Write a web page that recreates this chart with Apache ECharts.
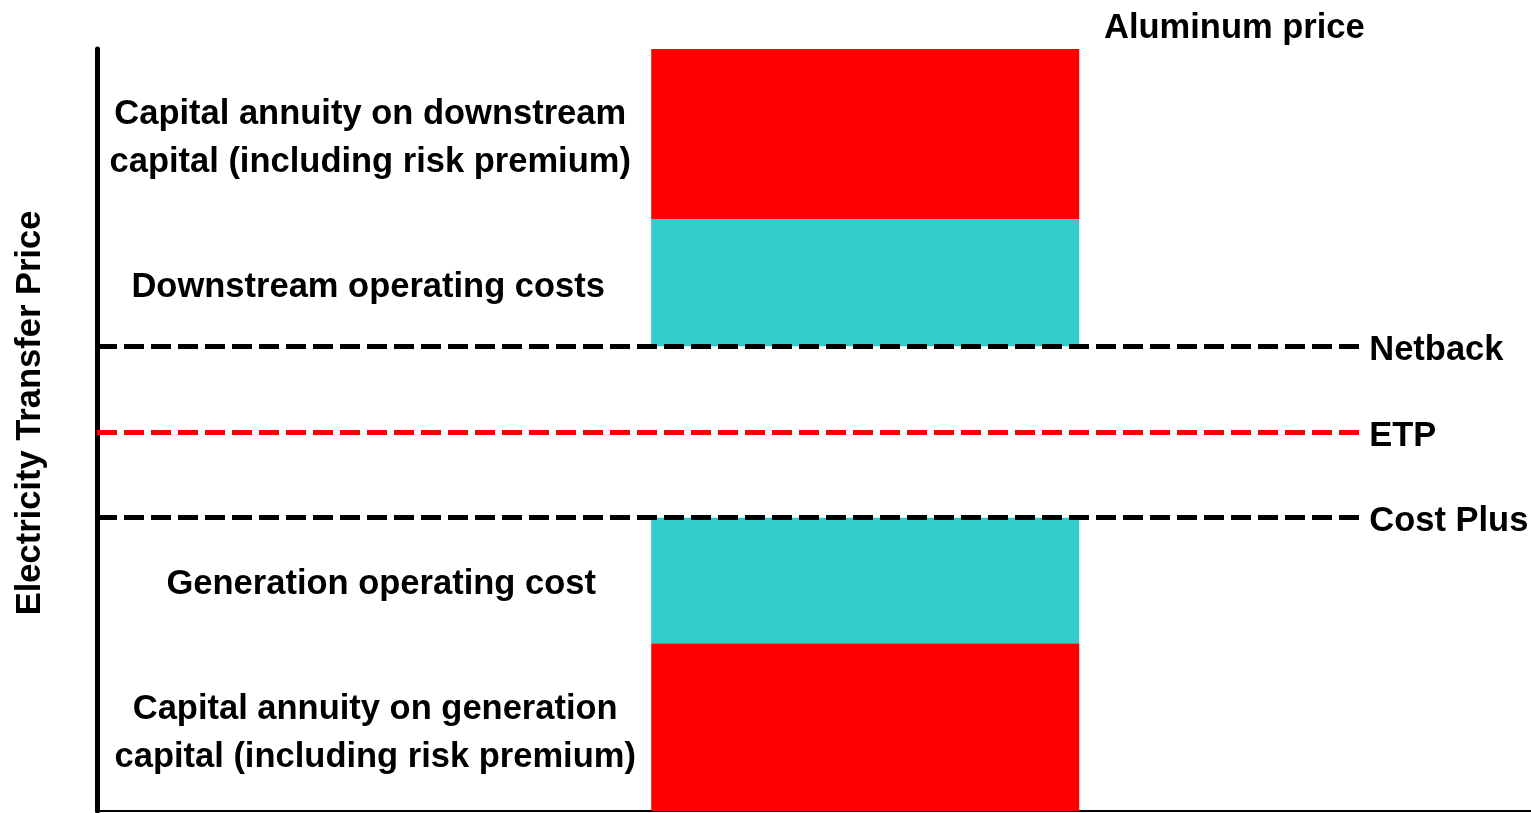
<!DOCTYPE html>
<html>
<head>
<meta charset="utf-8">
<title>Electricity Transfer Price</title>
<script src="https://cdn.jsdelivr.net/npm/echarts@6/dist/echarts.min.js"></script>
<style>
  html, body { margin: 0; padding: 0; background: #ffffff; }
  #chart { width: 1531px; height: 813px; }
</style>
</head>
<body>
<div id="chart"></div>
<script>
// Price build-up (arbitrary units, aluminum price = 100)
const componentNames = [
  'Capital annuity on generation\ncapital (including risk premium)',
  'Generation operating cost',
  'Downstream operating costs',
  'Capital annuity on downstream\ncapital (including risk premium)'
];
const componentValues = [22, 16.5, 16.7, 22.3];

const levelNames = ['Cost Plus', 'ETP', 'Netback'];
const levelValues = [38.5, 49.7, 61];
const aluminumPrice = 100;
const axisTitle = 'Electricity Transfer Price';

const RED = '#ff0000';
const CYAN = '#33cccc';
const FONT = '"Liberation Sans", Arial, sans-serif';
const FS = 34.5;

// horizontal layout: 14 equal slots across the plot, the bar sits in slot 8
const SLOT_COUNT = 14;
const BAR_SLOT = 7;
const LINE_END_X = 88.3;   // on the 0..100 reference x-axis
const BAR_PX = 428;

const slots = Array.from({ length: SLOT_COUNT }, (_, i) => 's' + i);
const costPlus = levelValues[0];
const netback = levelValues[2];
const gapValue = netback - costPlus;

function segment(name, value, color, labelOffset) {
  const data = slots.map((_, i) => (i === BAR_SLOT ? value : '-'));
  return {
    type: 'bar',
    name: name,
    stack: 'price',
    xAxisIndex: 1,
    barWidth: BAR_PX,
    data: data,
    itemStyle: { color: color },
    silent: true,
    label: {
      show: labelOffset !== null,
      position: 'inside',
      formatter: name,
      offset: labelOffset || [0, 0],
      color: '#000',
      fontFamily: FONT,
      fontWeight: 'bold',
      fontSize: FS,
      lineHeight: 48,
      align: 'center'
    }
  };
}

const lineColors = ['#000000', RED, '#000000'];
const markLineData = levelNames.map((n, i) => [
  { coord: [0, levelValues[i]], name: n,
    lineStyle: { color: lineColors[i] } },
  { coord: [LINE_END_X, levelValues[i]] }
]);

const series = [
  segment(componentNames[0], componentValues[0], RED, [-490, 6]),
  segment(componentNames[1], componentValues[1], CYAN, [-484, 4]),
  segment('gap', gapValue, 'rgba(0,0,0,0)', null),
  segment(componentNames[2], componentValues[2], CYAN, [-497, 5]),
  segment(componentNames[3], componentValues[3], RED, [-495, 5]),
  {
    // price levels drawn as dashed reference lines
    type: 'line',
    name: 'levels',
    xAxisIndex: 0,
    data: [],
    silent: true,
    markLine: {
      silent: true,
      symbol: 'none',
      animation: false,
      lineStyle: { type: [20, 7], width: 5 },
      label: {
        show: true,
        position: 'end',
        distance: 6,
        offset: [0, 4],
        formatter: '{b}',
        color: '#000',
        fontFamily: FONT,
        fontWeight: 'bold',
        fontSize: FS
      },
      data: markLineData
    }
  }
];

const chart = echarts.init(document.getElementById('chart'));
chart.setOption({
  animation: false,
  backgroundColor: '#ffffff',
  title: {
    text: 'Aluminum price',
    left: 1099,
    top: 6,
    textStyle: { fontFamily: FONT, fontWeight: 'bold', fontSize: FS, color: '#000' }
  },
  grid: { left: 97, right: 0, top: 49, bottom: 2 },
  xAxis: [
    {
      type: 'value',
      min: 0,
      max: 100,
      axisLine: { show: true, lineStyle: { color: '#000', width: 2 } },
      axisTick: { show: false },
      axisLabel: { show: false },
      splitLine: { show: false }
    },
    {
      type: 'category',
      data: slots,
      position: 'bottom',
      show: false
    }
  ],
  yAxis: {
    type: 'value',
    min: 0,
    max: aluminumPrice,
    name: axisTitle,
    nameLocation: 'middle',
    nameGap: 49,
    nameTextStyle: {
      fontFamily: FONT, fontWeight: 'bold', fontSize: FS, color: '#000',
      padding: [0, 0, 0, 34]
    },
    axisLine: { show: true, lineStyle: { color: '#000', width: 5 } },
    axisTick: { show: false },
    axisLabel: { show: false },
    splitLine: { show: false }
  },
  series: series
});
</script>
</body>
</html>
